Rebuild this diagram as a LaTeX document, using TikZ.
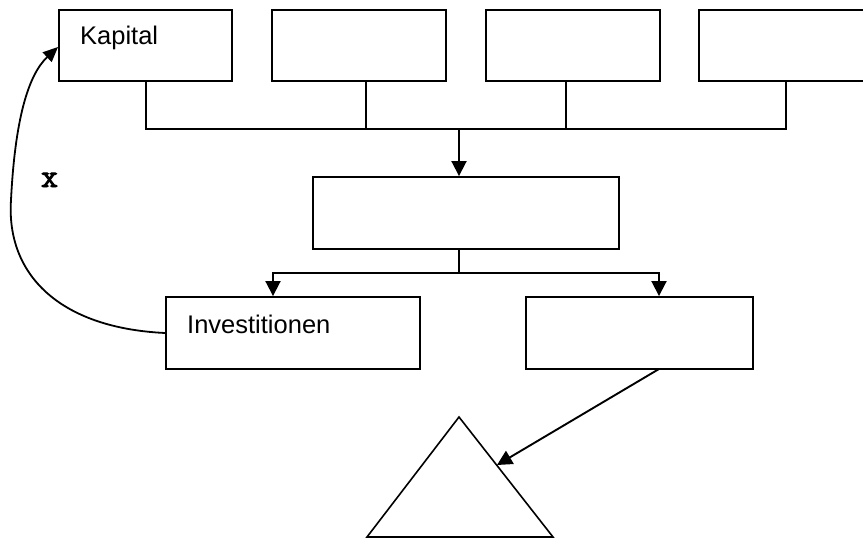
\documentclass[tikz,border=0pt]{standalone}
\usepackage{fontspec}
\setmainfont{Liberation Sans}
\newfontfamily\xmono[FakeBold=3]{Latin Modern Mono}
\usetikzlibrary{arrows.meta}
\begin{document}
\begin{tikzpicture}[x=1pt,y=-1pt,
  box/.style={draw,line width=1.9pt,rectangle,inner sep=0pt},
  conn/.style={line width=1.9pt},
  arr/.style={line width=1.9pt,-{Triangle[length=15pt,width=15pt]}},
  lbl/.style={anchor=base west,inner sep=0pt,font=\fontsize{25.5}{28}\selectfont}]
\clip (0,0) rectangle (863,538);
\fill[white] (0,0) rectangle (863,538);
% top row
\node[box,minimum width=173pt,minimum height=71pt] (k) at (145.5,45.5) {};
\node[box,minimum width=174pt,minimum height=71pt] (b2) at (359,45.5) {};
\node[box,minimum width=174pt,minimum height=71pt] (b3) at (573,45.5) {};
\node[box,minimum width=190pt,minimum height=71pt] (b4) at (794,45.5) {};
\node[lbl] (kt) at (80,45) {Kapital};
% middle
\node[box,minimum width=306pt,minimum height=72pt] (m) at (466,213) {};
% lower row
\node[box,minimum width=254pt,minimum height=72pt] (inv) at (293,333) {};
\node[box,minimum width=227pt,minimum height=72pt] (r) at (639.5,333) {};
\node[lbl] (it) at (187,333) {Investitionen};
% junction coordinates
\coordinate (j) at (459,129);
\coordinate (j2) at (459,273);
\coordinate (rs) at (659,369);
% triangle
\coordinate (ta) at (459,417);
\coordinate (tl) at (367,537);
\coordinate (tr) at (553,537);
\coordinate (te) at (497,465);
\draw[line width=1.6pt,line join=miter] (ta) -- (tl) -- (tr) -- cycle;
% connectors top
\draw[conn] (k.south -| 146,0) |- (j);
\draw[conn] (b2.south -| 366,0) |- (j);
\draw[conn] (b3.south -| 566,0) |- (j);
\draw[conn] (b4.south -| 786,0) |- (j);
\draw[arr] (j) -- (m.north -| j);
% connectors middle
\draw[conn] (m.south -| j2) -- (j2);
\draw[arr] (j2) -| (inv.north -| 273,0);
\draw[arr] (j2) -| (r.north -| 659,0);
% right box to triangle
\draw[arr] (rs) -- (te);
% feedback curve
\draw[line width=1.8pt,-{Triangle[length=15pt,width=13pt]}] (inv.west |- 0,333) .. controls (60,328) and (6,275) .. (11,200) .. controls (15,120) and (28,75) .. (k.west |- 0,47);
\node[font=\xmono\fontsize{33}{34}\selectfont,inner sep=0pt,anchor=base] (x) at (49.5,187) {x};
\end{tikzpicture}
\end{document}
